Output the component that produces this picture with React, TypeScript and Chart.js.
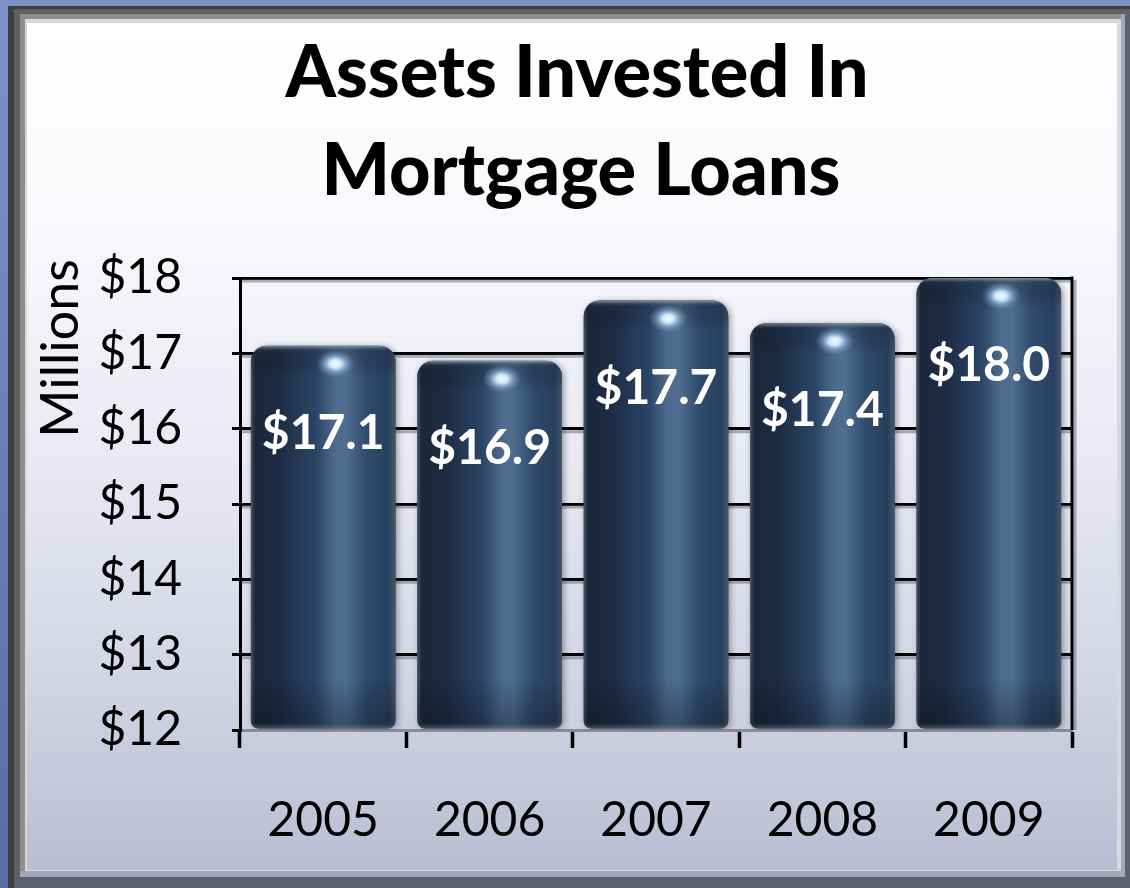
import React, { useEffect, useRef } from "react";
import { Chart, registerables } from "chart.js";

Chart.register(...registerables);

// ---- data ----
const years = ["2005", "2006", "2007", "2008", "2009"];
const assetsMillions = [17.1, 16.9, 17.7, 17.4, 18.0];
const yMin = 12;
const yMax = 18;
const yStep = 1;
const titleLines = ["Assets Invested In", "Mortgage Loans"];
const yAxisTitle = "Millions";

const FONT = "Lato";

const decorPlugin = {
  id: "decor",
  beforeDatasetsDraw(chart: any) {
    const { ctx, chartArea: a, scales } = chart;
    const y = scales.y;
    ctx.save();
    ctx.lineWidth = 3;
    ctx.strokeStyle = "rgba(120,122,135,0.6)";
    for (const t of y.ticks) {
      if (t.value === y.min) continue;
      const py = y.getPixelForValue(t.value) + 3;
      ctx.beginPath();
      ctx.moveTo(a.left + 2, py);
      ctx.lineTo(a.right, py);
      ctx.stroke();
    }
    ctx.beginPath();
    ctx.moveTo(a.right + 3, a.top + 2);
    ctx.lineTo(a.right + 3, a.bottom);
    ctx.stroke();
    ctx.strokeStyle = "#000";
    ctx.beginPath();
    ctx.moveTo(a.right, a.top - 1.5);
    ctx.lineTo(a.right, a.bottom);
    ctx.stroke();
    ctx.restore();
    ctx.save();
    ctx.shadowColor = "rgba(40,45,60,0.45)";
    ctx.shadowBlur = 6;
    ctx.shadowOffsetX = 2;
    ctx.shadowOffsetY = 1;
  },
  afterDatasetsDraw(chart: any) {
    const { ctx } = chart;
    ctx.restore();
    const meta = chart.getDatasetMeta(0);
    const values = chart.data.datasets[0].data as number[];
    meta.data.forEach((el: any, i: number) => {
      const { x, y, base, width } = el.getProps(["x", "y", "base", "width"], true);
      const left = x - width / 2;
      const top = Math.min(y, base);
      const h = Math.abs(base - y);
      ctx.save();
      ctx.beginPath();
      ctx.roundRect(left, top, width, h, [16, 16, 8, 8]);
      ctx.clip();
      const g = ctx.createLinearGradient(left, 0, left + width, 0);
      g.addColorStop(0, "#4a5566");
      g.addColorStop(0.03, "#1b273a");
      g.addColorStop(0.2, "#1d2c44");
      g.addColorStop(0.45, "#2b4566");
      g.addColorStop(0.58, "#4c6a8c");
      g.addColorStop(0.66, "#4f6e90");
      g.addColorStop(0.8, "#2f4a6b");
      g.addColorStop(0.95, "#28405f");
      g.addColorStop(1, "#4a5668");
      ctx.fillStyle = g;
      ctx.fillRect(left, top, width, h);
      const v = ctx.createLinearGradient(0, top, 0, top + h);
      v.addColorStop(0, "rgba(150,160,175,0.85)");
      v.addColorStop(Math.min(5 / h, 1), "rgba(30,42,60,0.35)");
      v.addColorStop(Math.min(30 / h, 1), "rgba(0,0,0,0)");
      v.addColorStop(Math.max((h - 50) / h, 0), "rgba(0,0,0,0)");
      v.addColorStop(Math.max((h - 6) / h, 0), "rgba(5,10,20,0.3)");
      v.addColorStop(1, "rgba(110,115,125,0.6)");
      ctx.fillStyle = v;
      ctx.fillRect(left, top, width, h);
      // specular highlight
      ctx.translate(left + width * 0.585, top + 18);
      ctx.scale(1.4, 1);
      const r = ctx.createRadialGradient(0, 0, 0, 0, 0, 14);
      r.addColorStop(0, "rgba(245,252,255,1)");
      r.addColorStop(0.3, "rgba(215,238,255,0.95)");
      r.addColorStop(0.65, "rgba(150,190,230,0.45)");
      r.addColorStop(1, "rgba(120,160,200,0)");
      ctx.fillStyle = r;
      ctx.beginPath();
      ctx.arc(0, 0, 14, 0, Math.PI * 2);
      ctx.fill();
      ctx.restore();

      // data label
      ctx.save();
      ctx.font = `bold 48px ${FONT}`;
      ctx.fillStyle = "#ffffff";
      ctx.textAlign = "center";
      ctx.textBaseline = "alphabetic";
      ctx.fillText("$" + values[i].toFixed(1), x, y + 103);
      ctx.restore();
    });
  },
  afterDraw(chart: any) {
    const { ctx } = chart;
    ctx.save();
    ctx.fillStyle = "#000";
    ctx.textAlign = "center";
    ctx.textBaseline = "alphabetic";
    ctx.font = `900 72px ${FONT}`;
    ctx.fillText(titleLines[0], 577, 97);
    ctx.fillText(titleLines[1], 581, 195);
    ctx.translate(78, 348.5);
    ctx.rotate(-Math.PI / 2);
    ctx.font = `52px ${FONT}`;
    ctx.fillText(yAxisTitle, 0, 0);
    ctx.restore();
  },
};

export default function App() {
  const ref = useRef<HTMLCanvasElement>(null);
  useEffect(() => {
    document.body.style.margin = "0";
    const chart = new Chart(ref.current as HTMLCanvasElement, {
      type: "bar",
      data: {
        labels: years,
        datasets: [
          {
            data: assetsMillions,
            base: yMin,
            backgroundColor: "#2b4566",
            borderWidth: 0,
            borderRadius: { topLeft: 16, topRight: 16, bottomLeft: 8, bottomRight: 8 },
            borderSkipped: false,
            barPercentage: 0.87,
            categoryPercentage: 1,
          } as any,
        ],
      },
      options: {
        responsive: false,
        animation: false,
        devicePixelRatio: 1,
        layout: { padding: { top: 278, left: 0, right: 58, bottom: 0 } },
        plugins: {
          legend: { display: false },
          title: { display: false },
          tooltip: { enabled: false },
        },
        scales: {
          x: {
            grid: {
              display: true,
              drawOnChartArea: false,
              drawTicks: true,
              tickLength: 18,
              tickWidth: 3.5,
              tickColor: "#000",
              offset: true,
            },
            border: { display: true, color: "#8a8c94", width: 3 },
            ticks: {
              font: { family: FONT, size: 48 },
              color: "#000",
              padding: 44,
            },
            afterFit: (s: any) => {
              s.height = 158;
            },
          },
          y: {
            min: yMin,
            max: yMax,
            ticks: {
              stepSize: yStep,
              callback: (v: any) => "$" + v,
              font: { family: FONT, size: 48 },
              color: "#000",
              padding: 50,
            },
            grid: {
              color: (c: any) => (c.tick && c.tick.value === yMin ? "rgba(0,0,0,0)" : "#000"),
              lineWidth: 3,
              tickLength: 8,
              tickColor: "#000",
              tickWidth: 3,
            },
            border: { display: true, color: "#000", width: 3 },
            afterFit: (s: any) => {
              s.width = 240;
            },
          },
        },
      },
      plugins: [decorPlugin],
    });
    return () => chart.destroy();
  }, []);

  return (
    <div
      style={{
        position: "relative",
        width: 1130,
        height: 888,
        overflow: "hidden",
        background: "linear-gradient(180deg, #7e92c6 0%, #5a6ca4 100%)",
      }}
    >
      <div
        style={{
          position: "absolute",
          left: 8,
          top: 6,
          width: 1122,
          height: 882,
          background:
            "linear-gradient(180deg, #ffffff 0%, #f8f9fc 25%, #e9eaf3 50%, #d4d6e5 75%, #b8bbd1 100%)",
          boxShadow: [
            "inset 6px 3px 0 #3e3e3e",
            "inset -5px -11px 0 #5c6070",
            "inset 12px 8px 0 #606060",
            "inset -9px -17px 0 #a4a7b8",
            "inset 17px 13px 0 #8e8e8e",
            "inset -13px -18px 0 #d6d8e2",
            "inset 19px 17px 0 #d8d8d8",
          ].join(", "),
        }}
      />
      <canvas
        ref={ref}
        width={1130}
        height={888}
        style={{ position: "absolute", left: 0, top: 0, width: 1130, height: 888 }}
      />
    </div>
  );
}
